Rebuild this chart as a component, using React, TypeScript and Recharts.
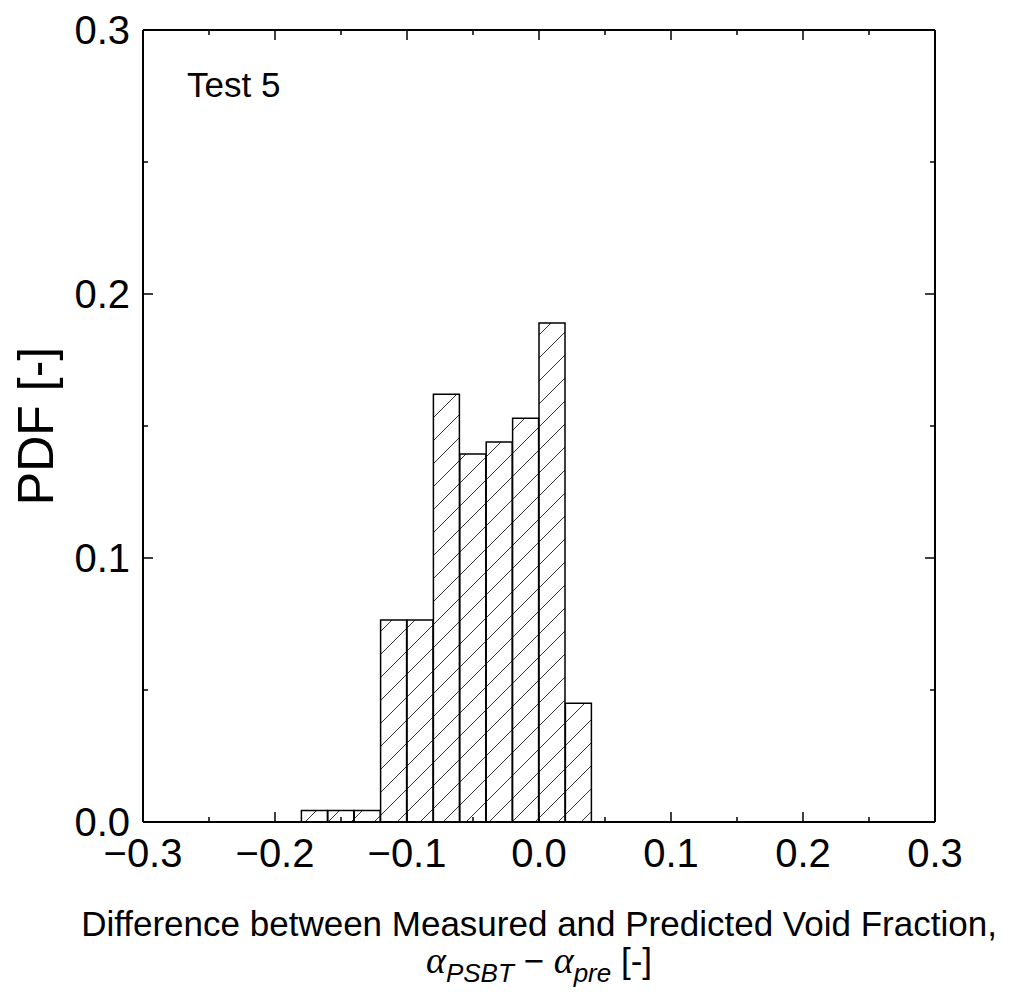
import { BarChart, Bar, XAxis, YAxis } from 'recharts'

// bin centres of the histogram (bin width 0.02)
const binCenters = [-0.17, -0.15, -0.13, -0.11, -0.09, -0.07, -0.05, -0.03, -0.01, 0.01, 0.03]
const pdfValues = [0.0044, 0.0044, 0.0044, 0.0765, 0.0765, 0.162, 0.1394, 0.1439, 0.1529, 0.189, 0.045]

const xTicks = [-0.3, -0.25, -0.2, -0.15, -0.1, -0.05, 0, 0.05, 0.1, 0.15, 0.2, 0.25, 0.3]
const xMajor = [-0.3, -0.2, -0.1, 0, 0.1, 0.2, 0.3]
const yTicks = [0, 0.05, 0.1, 0.15, 0.2, 0.25, 0.3]
const yMajor = [0, 0.1, 0.2, 0.3]

const data = binCenters.map((x, i) => ({ x, pdf: pdfValues[i] }))

const FONT = '"Liberation Sans", Arial, sans-serif'
const SERIF = '"Liberation Serif", "Times New Roman", serif'
const MAJOR = 10
const MINOR = 5
const AXIS = { stroke: '#000', strokeWidth: 2 }

const isMajor = (v: number, list: number[]) => list.some(m => Math.abs(m - v) < 1e-9)
const fmt = (v: number) => (v < -1e-9 ? '\u2212' + Math.abs(v).toFixed(1) : Math.abs(v).toFixed(1))

function BottomTick(props: any) {
  const { x, y, payload } = props
  const major = isMajor(payload.value, xMajor)
  return (
    <g>
      <line x1={x} x2={x} y1={y} y2={y - (major ? MAJOR : MINOR)} stroke="#000" strokeWidth={1.5} />
      {major && (
        <text x={x} y={y + 45} textAnchor="middle" fontSize={40} fontFamily={FONT} fill="#000">
          {fmt(payload.value)}
        </text>
      )}
    </g>
  )
}

function TopTick(props: any) {
  const { x, y, payload } = props
  const major = isMajor(payload.value, xMajor)
  return <line x1={x} x2={x} y1={y} y2={y + (major ? MAJOR : MINOR)} stroke="#000" strokeWidth={1.5} />
}

function LeftTick(props: any) {
  const { x, y, payload } = props
  const major = isMajor(payload.value, yMajor)
  return (
    <g>
      <line x1={x} x2={x + (major ? MAJOR : MINOR)} y1={y} y2={y} stroke="#000" strokeWidth={1.5} />
      {major && (
        <text x={x - 13} y={y} dy="0.35em" textAnchor="end" fontSize={40} fontFamily={FONT} fill="#000">
          {fmt(payload.value)}
        </text>
      )}
    </g>
  )
}

function RightTick(props: any) {
  const { x, y, payload } = props
  const major = isMajor(payload.value, yMajor)
  return <line x1={x} x2={x - (major ? MAJOR : MINOR)} y1={y} y2={y} stroke="#000" strokeWidth={1.5} />
}

function XLabel(props: any) {
  const { x, y, width } = props.viewBox
  const cx = x + width / 2
  return (
    <g fontFamily={FONT} fill="#000">
      <text x={cx} y={y + 114} textAnchor="middle" fontSize={35}>
        Difference between Measured and Predicted Void Fraction,
      </text>
      <text x={cx} y={y + 151} textAnchor="middle" fontSize={35}>
        <tspan fontFamily={SERIF} fontStyle="italic" fontSize={38}>α</tspan>
        <tspan fontStyle="italic" fontSize={26} dy={9}>PSBT</tspan>
        <tspan dy={-9}>{' \u2212 '}</tspan>
        <tspan fontFamily={SERIF} fontStyle="italic" fontSize={38}>α</tspan>
        <tspan fontStyle="italic" fontSize={26} dy={9}>pre</tspan>
        <tspan dy={-9}>{' [-]'}</tspan>
      </text>
    </g>
  )
}

function YLabel(props: any) {
  const { x, y, height } = props.viewBox
  const lx = x - 89
  const ly = y + height / 2
  return (
    <text x={lx} y={ly} transform={`rotate(-90, ${lx}, ${ly})`} textAnchor="middle" fontSize={50} fontFamily={FONT} fill="#000">
      PDF [-]
    </text>
  )
}

export default function App() {
  return (
    <div style={{ position: 'absolute', left: 0, top: 0, background: '#fff' }}>
      <BarChart
        width={1013}
        height={998}
        data={data}
        margin={{ top: 29, right: 77, left: 142, bottom: 175 }}
        barCategoryGap={0}
        barGap={0}
      >
        <defs>
          <pattern id="hatch" patternUnits="userSpaceOnUse" width={23} height={23}>
            <path d="M0,23 L23,0 M-6,6 L6,-6 M17,29 L29,17" stroke="#000" strokeWidth={0.8} />
          </pattern>
        </defs>
        <XAxis
          dataKey="x"
          type="number"
          domain={[-0.3, 0.3]}
          ticks={xTicks}
          interval={0}
          height={1}
          tickSize={0}
          tickMargin={0}
          tickLine={false}
          tick={<BottomTick />}
          axisLine={AXIS}
          allowDataOverflow
          label={{ content: <XLabel /> }}
        />
        <XAxis
          xAxisId="top"
          dataKey="x"
          orientation="top"
          type="number"
          domain={[-0.3, 0.3]}
          ticks={xTicks}
          interval={0}
          height={1}
          tickSize={0}
          tickMargin={0}
          tickLine={false}
          tick={<TopTick />}
          axisLine={AXIS}
          allowDataOverflow
        />
        <YAxis
          type="number"
          domain={[0, 0.3]}
          ticks={yTicks}
          interval={0}
          width={1}
          tickSize={0}
          tickMargin={0}
          tickLine={false}
          tick={<LeftTick />}
          axisLine={AXIS}
          allowDataOverflow
          label={{ content: <YLabel /> }}
        />
        <YAxis
          yAxisId="right"
          orientation="right"
          type="number"
          domain={[0, 0.3]}
          ticks={yTicks}
          interval={0}
          width={1}
          tickSize={0}
          tickMargin={0}
          tickLine={false}
          tick={<RightTick />}
          axisLine={AXIS}
          allowDataOverflow
        />
        <Bar dataKey="pdf" fill="url(#hatch)" stroke="#000" strokeWidth={1.5} isAnimationActive={false} />
        <text x={187} y={97} fontSize={35} fontFamily={FONT} fill="#000">
          Test 5
        </text>
      </BarChart>
    </div>
  )
}
